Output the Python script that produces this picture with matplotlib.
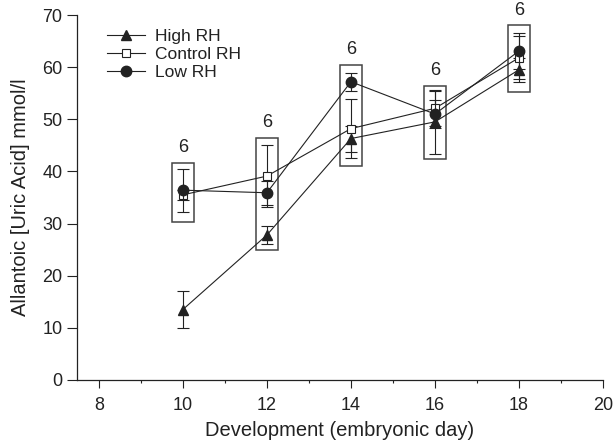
import matplotlib
matplotlib.use("Agg")
import matplotlib.pyplot as plt
from matplotlib.patches import Rectangle
from matplotlib.lines import Line2D

plt.rcParams['font.family'] = ['Liberation Sans', 'DejaVu Sans']

# Embryonic days sampled
days = [10, 12, 14, 16, 18]

# Allantoic uric acid (mmol/l), mean and error per treatment
high_rh = [13.5, 27.8, 46.3, 49.5, 59.5]
high_err = [3.5, 1.7, 2.5, 6.2, 2.3]
control_rh = [35.5, 39.1, 48.2, 52.1, 61.8]
control_err = [1.0, 6.0, 5.7, 3.4, 4.1]
low_rh = [36.4, 35.9, 57.2, 51.0, 63.1]
low_err = [4.1, 2.3, 1.7, 2.7, 3.5]

# Grouping boxes (lower/upper bound) and sample size per day
box_low = [30.2, 24.9, 41.0, 42.4, 55.2]
box_high = [41.6, 46.4, 60.4, 56.4, 68.0]
n_labels = ["6", "6", "6", "6", "6"]

ink = "#222222"

fig = plt.figure(figsize=(6.14, 4.48), dpi=100)
ax = fig.add_axes([0.1254, 0.152, 0.8567, 0.8145])

common = dict(color=ink, lw=0.8, elinewidth=0.8, capsize=4.5, capthick=0.8)
styles = [
    ('High RH', high_rh, high_err, dict(marker='^', ms=6.5, mfc=ink, mec=ink), 3),
    ('Control RH', control_rh, control_err,
     dict(marker='s', ms=6.0, mfc='white', mec=ink, mew=0.8), 4),
    ('Low RH', low_rh, low_err, dict(marker='o', ms=7.5, mfc=ink, mec=ink), 5),
]
handles = []
for name, vals, errs, mk, z in styles:
    ax.errorbar(days, vals, yerr=errs, zorder=z, **mk, **common)
    handles.append(Line2D([], [], color=ink, lw=0.8, label=name, **mk))

half_w = 0.26
for d, lo, hi, n in zip(days, box_low, box_high, n_labels):
    ax.add_patch(Rectangle((d - half_w, lo), 2 * half_w, hi - lo,
                           fill=False, ec='#444444', lw=1.1, zorder=2))
    ax.text(d, hi + 1.3, n, ha='center', va='bottom', fontsize=13, color=ink)

ax.set_xlim(7.48, 20)
ax.set_ylim(0, 70)
ax.set_xticks([8, 10, 12, 14, 16, 18, 20])
ax.set_xticks([9, 11, 13, 15, 17, 19], minor=True)
ax.set_yticks(range(0, 71, 10))
for s in ['top', 'right']:
    ax.spines[s].set_visible(False)
for s in ['left', 'bottom']:
    ax.spines[s].set_color(ink)
    ax.spines[s].set_linewidth(0.9)
ax.tick_params(axis='both', which='major', direction='out', length=6,
               width=0.8, color=ink, labelcolor=ink, labelsize=13)
ax.tick_params(axis='x', which='major', pad=6)
ax.tick_params(axis='y', which='major', pad=3.5, length=7)
ax.tick_params(axis='x', which='minor', direction='out', length=2.5,
               width=0.8, color=ink)

ax.set_xlabel('Development (embryonic day)', fontsize=14.5, color=ink, labelpad=5)
ax.set_ylabel('Allantoic [Uric Acid] mmol/l', fontsize=14.5, color=ink, labelpad=9)

leg = ax.legend(handles=handles, loc='upper left', bbox_to_anchor=(0.057, 0.962),
                frameon=False, fontsize=12.5, handlelength=2.2, handletextpad=0.57,
                labelspacing=0.16, borderaxespad=0.0, borderpad=0.0)
for t in leg.get_texts():
    t.set_color(ink)

fig.savefig('out.png', dpi=100)
